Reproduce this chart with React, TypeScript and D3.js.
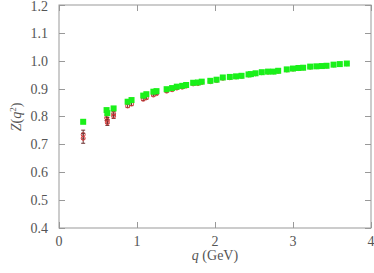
import { useEffect, useRef } from "react";
import * as d3 from "d3";

// q (GeV) values and Z(q^2)
const qGreen = [0.31, 0.61, 0.62, 0.70, 0.88, 0.93, 1.08, 1.12, 1.21, 1.25, 1.38, 1.45, 1.51, 1.58, 1.63, 1.72, 1.78, 1.83, 1.94, 2.02, 2.10, 2.19, 2.27, 2.34, 2.43, 2.46, 2.52, 2.60, 2.68, 2.75, 2.81, 2.92, 3.00, 3.07, 3.13, 3.22, 3.30, 3.37, 3.43, 3.52, 3.60, 3.69];
const zGreen = [0.781, 0.823, 0.812, 0.829, 0.853, 0.859, 0.875, 0.880, 0.889, 0.891, 0.898, 0.902, 0.907, 0.910, 0.913, 0.921, 0.922, 0.925, 0.928, 0.932, 0.940, 0.942, 0.944, 0.946, 0.951, 0.952, 0.955, 0.959, 0.961, 0.961, 0.964, 0.969, 0.972, 0.974, 0.975, 0.979, 0.980, 0.981, 0.982, 0.986, 0.988, 0.990];

const qRed = [0.31, 0.31, 0.61, 0.62, 0.62, 0.70, 0.70, 0.88, 0.93, 1.08, 1.12, 1.21, 1.25, 1.38, 1.45, 1.51, 1.58, 1.63, 1.72, 1.78, 1.83, 1.94, 2.02, 2.10, 2.19, 2.27, 2.34, 2.43, 2.46, 2.52, 2.60, 2.68, 2.75, 2.81, 2.92, 3.00, 3.07, 3.13, 3.22, 3.30, 3.37, 3.43, 3.52, 3.60, 3.69];
const zRed = [0.735, 0.722, 0.795, 0.786, 0.778, 0.810, 0.801, 0.838, 0.845, 0.862, 0.867, 0.877, 0.882, 0.891, 0.896, 0.902, 0.905, 0.909, 0.917, 0.918, 0.922, 0.925, 0.929, 0.937, 0.939, 0.942, 0.944, 0.949, 0.950, 0.953, 0.957, 0.959, 0.960, 0.962, 0.967, 0.970, 0.972, 0.974, 0.977, 0.979, 0.980, 0.981, 0.985, 0.987, 0.989];
const eRed = [0.016, 0.018, 0.010, 0.010, 0.010, 0.008, 0.008, 0.006, 0.006, 0.005, 0.005, 0.004, 0.004, 0.004, 0.004, 0.004, 0.004, 0.003, 0.003, 0.003, 0.003, 0.003, 0.003, 0.003, 0.003, 0.003, 0.003, 0.003, 0.003, 0.003, 0.003, 0.003, 0.003, 0.003, 0.003, 0.003, 0.003, 0.003, 0.003, 0.003, 0.003, 0.003, 0.003, 0.003, 0.003];

const xTicks = [0, 1, 2, 3, 4];
const yTicks = [0.4, 0.5, 0.6, 0.7, 0.8, 0.9, 1.0, 1.1, 1.2];

export default function App() {
  const ref = useRef<SVGSVGElement>(null);

  useEffect(() => {
    const width = 374;
    const height = 273;
    const left = 59, right = 371, top = 5, bottom = 228;

    const svg = d3.select(ref.current).attr("width", width).attr("height", height);
    svg.selectAll("*").remove();

    const x = d3.scaleLinear().domain([0, 4]).range([left, right]);
    const y = d3.scaleLinear().domain([0.4, 1.2]).range([bottom, top]);

    const axisColor = "#999";
    const textColor = "#555";
    const font = "Liberation Serif, serif";

    // frame
    svg.append("rect")
      .attr("x", left).attr("y", top)
      .attr("width", right - left).attr("height", bottom - top)
      .attr("fill", "none").attr("stroke", axisColor).attr("stroke-width", 1);

    const tl = 6;
    // x ticks (bottom and top, inward)
    xTicks.forEach((t) => {
      const px = Math.round(x(t)) + 0.5;
      svg.append("line").attr("x1", px).attr("x2", px).attr("y1", bottom).attr("y2", bottom - tl).attr("stroke", axisColor);
      svg.append("line").attr("x1", px).attr("x2", px).attr("y1", top).attr("y2", top + tl).attr("stroke", axisColor);
      svg.append("text")
        .attr("x", x(t)).attr("y", 246)
        .attr("text-anchor", "middle")
        .attr("font-family", font).attr("font-size", 14)
        .attr("fill", textColor)
        .text(d3.format("d")(t));
    });

    yTicks.forEach((t) => {
      const py = Math.round(y(t)) + 0.5;
      svg.append("line").attr("x1", left).attr("x2", left + tl).attr("y1", py).attr("y2", py).attr("stroke", axisColor);
      svg.append("line").attr("x1", right).attr("x2", right - tl).attr("y1", py).attr("y2", py).attr("stroke", axisColor);
      svg.append("text")
        .attr("x", 48).attr("y", Math.max(y(t), 6))
        .attr("dy", "0.35em")
        .attr("text-anchor", "end")
        .attr("font-family", font).attr("font-size", 14)
        .attr("fill", textColor)
        .text(d3.format(".1f")(t));
    });

    // axis labels
    const xl = svg.append("text")
      .attr("x", 215).attr("y", 260)
      .attr("text-anchor", "middle")
      .attr("font-family", font).attr("font-size", 14)
      .attr("fill", textColor);
    xl.append("tspan").attr("font-style", "italic").text("q");
    xl.append("tspan").text(" (GeV)");

    const yl = svg.append("text")
      .attr("transform", "translate(21,117) rotate(-90)")
      .attr("text-anchor", "middle")
      .attr("font-family", font).attr("font-size", 14)
      .attr("fill", textColor);
    yl.append("tspan").attr("font-style", "italic").text("Z");
    yl.append("tspan").text("(");
    yl.append("tspan").attr("font-style", "italic").text("q");
    yl.append("tspan").attr("font-size", 9).attr("dy", -5).text("2");
    yl.append("tspan").attr("dy", 5).text(")");

    // red series with error bars
    const red = svg.append("g");
    qRed.forEach((q, i) => {
      const px = x(q);
      red.append("line")
        .attr("x1", px).attr("x2", px)
        .attr("y1", y(zRed[i] - eRed[i])).attr("y2", y(zRed[i] + eRed[i]))
        .attr("stroke", "#6a3030").attr("stroke-width", 1);
      red.append("line").attr("x1", px - 2).attr("x2", px + 2)
        .attr("y1", y(zRed[i] - eRed[i])).attr("y2", y(zRed[i] - eRed[i]))
        .attr("stroke", "#6a3030");
      red.append("line").attr("x1", px - 2).attr("x2", px + 2)
        .attr("y1", y(zRed[i] + eRed[i])).attr("y2", y(zRed[i] + eRed[i]))
        .attr("stroke", "#6a3030");
      red.append("circle")
        .attr("cx", px).attr("cy", y(zRed[i]))
        .attr("r", 2)
        .attr("fill", "none").attr("stroke", "#e03a3a").attr("stroke-width", 1);
    });

    // green squares
    svg.append("g")
      .selectAll("rect")
      .data(qGreen)
      .enter()
      .append("rect")
      .attr("x", (d) => x(d) - 3)
      .attr("y", (d, i) => y(zGreen[i]) - 3)
      .attr("width", 6)
      .attr("height", 6)
      .attr("fill", "#1af01a");
  }, []);

  return (
    <svg ref={ref} style={{ position: "absolute", left: 0, top: 0 }}></svg>
  );
}
